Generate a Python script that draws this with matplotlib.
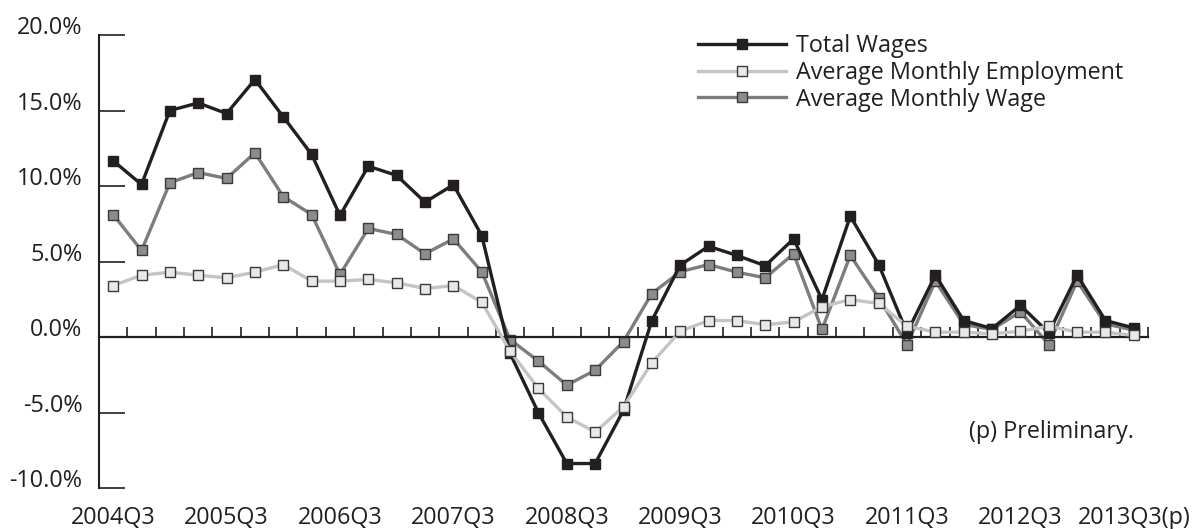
import numpy as np
import matplotlib
matplotlib.use("Agg")
import matplotlib.pyplot as plt
import matplotlib.transforms as mtransforms

plt.rcParams['font.family'] = ['Open Sans', 'DejaVu Sans']

# quarterly growth rates, 2004Q3 .. 2013Q3(p)
quarters = np.arange(37)
tick_labels = ['2004Q3', '2005Q3', '2006Q3', '2007Q3', '2008Q3',
               '2009Q3', '2010Q3', '2011Q3', '2012Q3', '2013Q3(p)']

total_wages = [11.67, 10.1, 15.0, 15.5, 14.8, 17.05, 14.58, 12.09, 8.05, 11.31,
               10.7, 8.93, 10.08, 6.72, -1.09, -5.02, -8.38, -8.38, -4.85, 1.09,
               4.76, 6.01, 5.40, 4.72, 6.50, 2.48, 8.0, 4.80, 0.28, 4.1,
               1.09, 0.56, 2.09, 0.28, 4.1, 1.09, 0.6]
avg_employment = [3.41, 4.09, 4.29, 4.09, 3.92, 4.29, 4.80, 3.70, 3.70, 3.81,
                  3.59, 3.21, 3.41, 2.30, -0.94, -3.41, -5.29, -6.3, -4.62, -1.71,
                  0.38, 1.09, 1.09, 0.81, 1.0, 2.0, 2.48, 2.22, 0.72, 0.32,
                  0.32, 0.21, 0.38, 0.72, 0.32, 0.32, 0.1]
avg_wage = [8.11, 5.73, 10.21, 10.89, 10.5, 12.2, 9.3, 8.11, 4.14, 7.19,
            6.79, 5.51, 6.5, 4.32, -0.17, -1.6, -3.19, -2.2, -0.3, 2.88,
            4.32, 4.80, 4.29, 3.92, 5.51, 0.5, 5.40, 2.6, -0.5, 3.7,
            0.83, 0.5, 1.67, -0.5, 3.7, 0.87, 0.45]

yticks = [-10, -5, 0, 5, 10, 15, 20]
ytick_labels = ['-10.0%', '-5.0%', '0.0%', '5.0%', '10.0%', '15.0%', '20.0%']

fs = 16.8

fig = plt.figure(figsize=(11.93, 5.29), dpi=100)
ax = fig.add_axes([99 / 1193, 1 - 488 / 529, (1148 - 99) / 1193, (488 - 35) / 529])

ax.plot(quarters, total_wages, color='#231f20', lw=2.4, marker='s', ms=7.5,
        mfc='#231f20', mec='#231f20', zorder=3, label='Total Wages')
ax.plot(quarters, avg_employment, color='#c4c4c4', lw=2.4, marker='s', ms=7,
        mfc='#e8e8e8', mec='#3a3a3a', mew=1.0, zorder=4,
        label='Average Monthly Employment')
ax.plot(quarters, avg_wage, color='#7d7d7d', lw=2.4, marker='s', ms=7,
        mfc='#8c8c8c', mec='#3a3a3a', mew=1.0, zorder=2,
        label='Average Monthly Wage')

ax.set_xlim(-0.5, 36.5)
ax.set_ylim(-10, 20)

for s in ['top', 'right']:
    ax.spines[s].set_visible(False)
ax.spines['left'].set_linewidth(1.5)
ax.spines['left'].set_color('#231f20')
ax.spines['bottom'].set_position(('data', 0))
ax.spines['bottom'].set_linewidth(1.6)
ax.spines['bottom'].set_color('#231f20')

# tick marks between quarters on the zero line
ax.set_xticks(np.arange(-0.5, 37, 1))
ax.set_xticklabels([])
ax.tick_params(axis='x', direction='in', length=7.5, width=1.2, color='#231f20')

ax.set_yticks(yticks)
ax.set_yticklabels(ytick_labels)
ax.tick_params(axis='y', direction='in', length=18.7, width=1.2,
               color='#231f20', pad=12, labelsize=fs, labelcolor='#231f20')
offset = mtransforms.ScaledTranslation(0, 10 / 100, fig.dpi_scale_trans)
for lab in ax.get_yticklabels():
    lab.set_transform(lab.get_transform() + offset)

# category labels at the bottom
sec = ax.secondary_xaxis(location=-10, transform=ax.transData)
sec.set_xticks(quarters[::4])
sec.set_xticklabels(tick_labels)
sec.tick_params(length=0, pad=13, labelsize=fs, labelcolor='#231f20')
sec.spines['bottom'].set_visible(False)

ax.text(36, -6.3, '(p) Preliminary.', ha='right', va='center',
        fontsize=fs, color='#231f20')

ax.legend(loc='upper left', bbox_to_anchor=(698 / 1193, 1 - 34 / 529),
          bbox_transform=fig.transFigure, frameon=False, fontsize=fs,
          handlelength=3.75, handletextpad=0.45, labelspacing=0.12,
          borderpad=0, borderaxespad=0, labelcolor='#231f20')

fig.savefig('out.png', dpi=100)
